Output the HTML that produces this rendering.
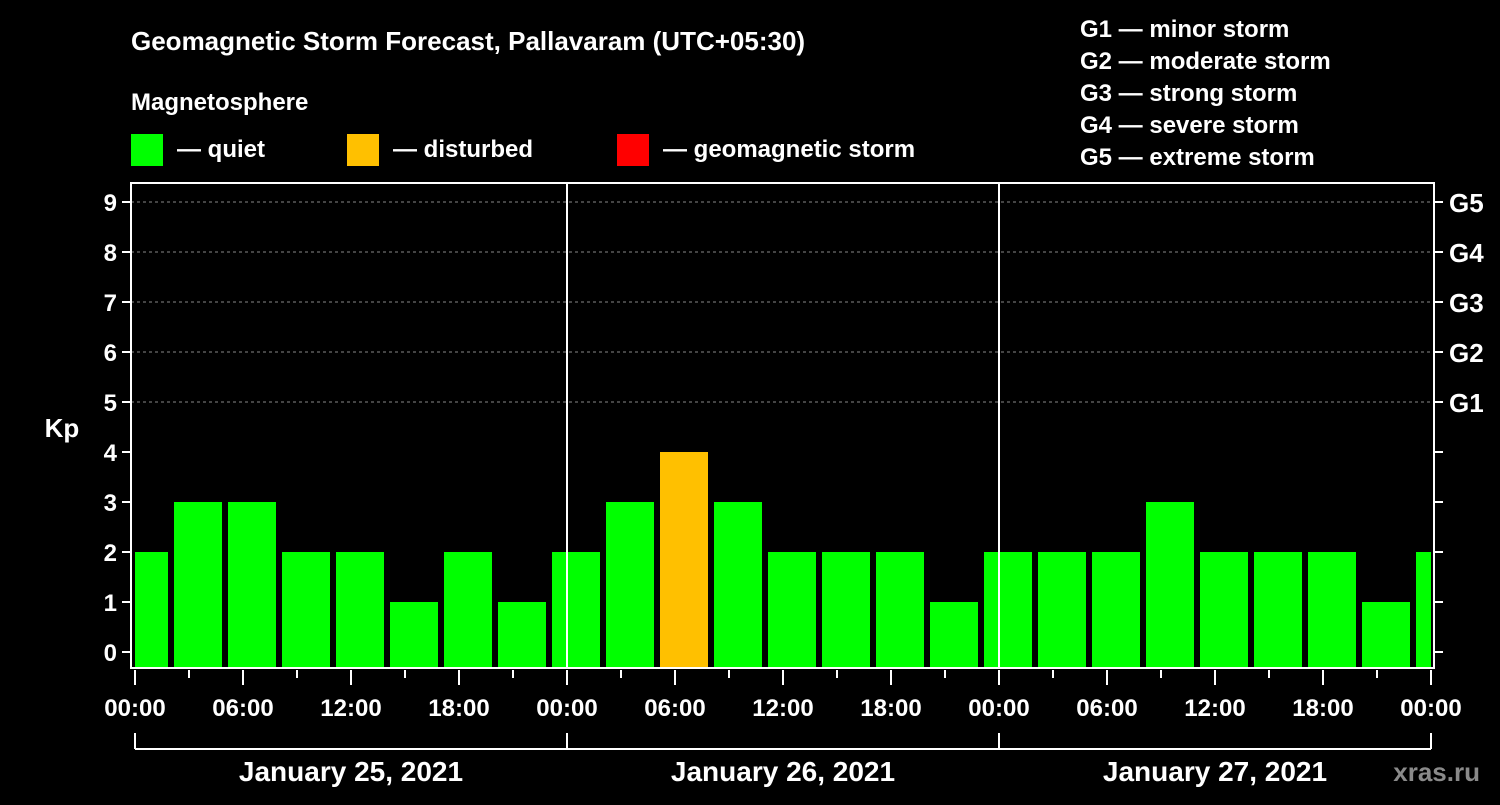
<!DOCTYPE html>
<html><head><meta charset="utf-8"><style>
html,body{margin:0;padding:0;background:#000;}
svg text{font-family:"Liberation Sans",Arial,sans-serif;font-weight:bold;fill:#fff;}
</style></head><body>
<svg id="chart" width="1500" height="800" viewBox="0 0 1500 800" xmlns="http://www.w3.org/2000/svg">
<rect width="1500" height="800" fill="#000"/>
<text x="131" y="50" font-size="26">Geomagnetic Storm Forecast, Pallavaram (UTC+05:30)</text>
<text x="131" y="110" font-size="24">Magnetosphere</text>
<g>
<rect x="131" y="134" width="32" height="32" fill="#00ff00"/>
<text x="177" y="157" font-size="24">— quiet</text>
<rect x="347" y="134" width="32" height="32" fill="#ffc000"/>
<text x="393" y="157" font-size="24">— disturbed</text>
<rect x="617" y="134" width="32" height="32" fill="#ff0000"/>
<text x="663" y="157" font-size="24">— geomagnetic storm</text>
</g>
<g font-size="24">
<text x="1080" y="37">G1 — minor storm</text>
<text x="1080" y="69">G2 — moderate storm</text>
<text x="1080" y="101">G3 — strong storm</text>
<text x="1080" y="133">G4 — severe storm</text>
<text x="1080" y="165">G5 — extreme storm</text>
</g>
<text x="62" y="437" font-size="26" text-anchor="middle">Kp</text>
<text x="1480" y="781" font-size="26" text-anchor="end" fill="#888" style="fill:#8a8a8a">xras.ru</text>
<g id="plot"></g>
</svg>
<script>
const kpValues = [2,3,3,2,2,1,2,1, 2,3,4,3,2,2,2,1, 2,2,2,3,2,2,2,1,2];
const firstBarHour = 0.5;
const barStepHours = 3;
const yTicks = [0,1,2,3,4,5,6,7,8,9];
const gLevels = ["G1","G2","G3","G4","G5"];
const xTickLabels = ["00:00","06:00","12:00","18:00","00:00","06:00","12:00","18:00","00:00","06:00","12:00","18:00","00:00"];
const dayLabels = ["January 25, 2021","January 26, 2021","January 27, 2021"];

const NS="http://www.w3.org/2000/svg";
const plot=document.getElementById('plot');
const X0=135, PX_H=18, L=131, R=1434, T=183, B=668;
const x=h=>X0+h*PX_H;
const y=v=>652-50*v;
function mk(tag,attrs,parent){const e=document.createElementNS(NS,tag);for(const k in attrs)e.setAttribute(k,attrs[k]);(parent||plot).appendChild(e);return e;}

// gridlines
for(let v=5;v<=9;v++){
  const g=mk('line',{x1:L,x2:R,y1:y(v),y2:y(v),stroke:'#888','stroke-dasharray':'3,3','stroke-width':1});
  
  
}
// clip
const defs=mk('defs',{});
const cp=mk('clipPath',{id:'clip'},defs);
mk('rect',{x:X0,y:T,width:x(72)-X0,height:B-T},cp);
const bars=mk('g',{'clip-path':'url(#clip)'});


kpValues.forEach((v,i)=>{
  const c=firstBarHour+i*barStepHours;
  const col=v>=5?'#ff0000':(v>=4?'#ffc000':'#00ff00');
  const r=mk('rect',{x:x(c)-24,y:y(v),width:48,height:B-y(v),fill:col},bars);
  
  
});
// day separators
for(let d=1;d<3;d++){
  const l=mk('line',{x1:x(24*d),x2:x(24*d),y1:T,y2:B,stroke:'#fff','stroke-width':2});
  
  
}
// frame
const fr=mk('rect',{x:L,y:T,width:R-L,height:B-T,fill:'none',stroke:'#fff','stroke-width':2});


// y ticks
yTicks.forEach(v=>{
  mk('line',{x1:L-9,x2:L,y1:y(v),y2:y(v),stroke:'#fff','stroke-width':2});
  mk('line',{x1:R,x2:R+9,y1:y(v),y2:y(v),stroke:'#fff','stroke-width':2});
  const t=mk('text',{x:L-14,y:y(v)+9,'font-size':24,'text-anchor':'end'});
  t.textContent=v;
  
  
});
gLevels.forEach((g,i)=>{
  const t=mk('text',{x:1449,y:y(5+i)+10,'font-size':26});
  t.textContent=g;
  
  
});
// x ticks
for(let h=0;h<=72;h+=3){
  const major=h%6===0;
  mk('line',{x1:x(h),x2:x(h),y1:B+2,y2:B+(major?17:10),stroke:'#fff','stroke-width':2});
}
xTickLabels.forEach((s,i)=>{
  const t=mk('text',{x:x(i*6),y:716,'font-size':24,'text-anchor':'middle'});
  t.textContent=s;
  
  
});
// day brackets
mk('line',{x1:x(0),x2:x(72),y1:749,y2:749,stroke:'#fff','stroke-width':2});
for(let d=0;d<=3;d++) mk('line',{x1:x(24*d),x2:x(24*d),y1:733,y2:749,stroke:'#fff','stroke-width':2});
dayLabels.forEach((s,i)=>{
  const t=mk('text',{x:x(24*i+12),y:781,'font-size':28,'text-anchor':'middle'});
  t.textContent=s;
  
  
});
</script>
</body></html>
